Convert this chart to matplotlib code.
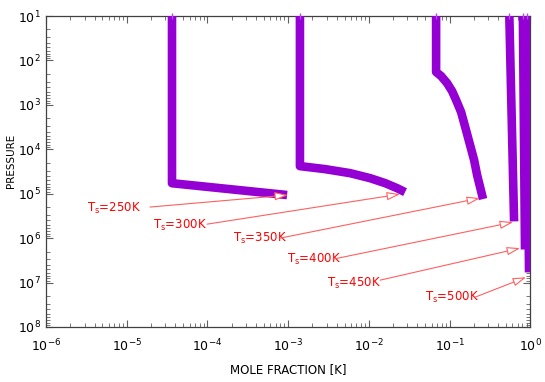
import numpy as np
import matplotlib
matplotlib.use("Agg")
import matplotlib.pyplot as plt
from matplotlib.ticker import LogLocator, NullFormatter, FixedLocator

# ---- data (mole fraction, pressure) per surface temperature ----
labels = ["250K", "300K", "350K", "400K", "450K", "500K"]

x_250 = [3.64e-5, 3.64e-5, 9.7e-4]
p_250 = [10, 5.8e4, 1.07e5]

x_300 = [1.40e-3, 1.40e-3, 2.86e-3, 5.85e-3, 1.035e-2, 1.59e-2, 2.23e-2, 2.81e-2]
p_300 = [10, 2.39e4, 2.79e4, 3.44e4, 4.46e4, 5.77e4, 7.48e4, 9.2e4]

x_350 = [0.0681, 0.0681, 0.0785, 0.0931, 0.1074, 0.1205, 0.139, 0.160,
         0.1795, 0.2014, 0.2194, 0.2389, 0.260]
p_350 = [10, 182, 224, 323, 489, 780, 1452, 3.70e3,
         8.04e3, 1.75e4, 3.81e4, 7.10e4, 1.32e5]

x_400 = [0.55, 0.63]
p_400 = [10, 4.2e5]

x_450 = [0.81, 0.86]
p_450 = [10, 1.8e6]

x_500 = [0.90, 0.965]
p_500 = [10, 5.9e6]

series_x = [x_250, x_300, x_350, x_400, x_450, x_500]
series_p = [p_250, p_300, p_350, p_400, p_450, p_500]

# annotation layout (log10 coordinates): text left, text y, arrow tail, arrow head
label_pos = [(-5.492, 5.324), (-4.674, 5.707), (-3.683, 6.0),
             (-3.014, 6.473), (-2.518, 7.014), (-1.304, 7.329)]
arrow_tail = [(-4.711, 5.30), (-4.005, 5.685), (-3.10, 6.0),
              (-2.444, 6.473), (-1.861, 6.946), (-0.684, 7.329)]
arrow_head = [(-3.001, 5.03), (-1.613, 5.009), (-0.622, 5.099),
              (-0.213, 5.64), (-0.126, 6.225), (-0.052, 6.88)]

purple = "#9400D3"
red = "#ff0000"
arrow_red = "#ff6060"

fig = plt.figure(figsize=(5.45, 3.82), dpi=100)
ax = fig.add_axes([0.0844, 0.144, 0.8886, 0.814])

for xs, ps in zip(series_x, series_p):
    ax.plot(xs, ps, color=purple, lw=6.2, solid_capstyle="butt",
            solid_joinstyle="round", zorder=3)
    ax.plot([xs[0]], [ps[0]], marker="|", ms=5, mew=1.0, color="#b050e0",
            clip_on=False, zorder=4, ls="none")

for lab, lp, tl, hd in zip(labels, label_pos, arrow_tail, arrow_head):
    ax.text(10**lp[0], 10**lp[1], r"T$_\mathrm{s}$=" + lab, color=red,
            fontsize=8.5, ha="left", va="center", zorder=5)
    ax.annotate("", xy=(10**hd[0], 10**hd[1]), xytext=(10**tl[0], 10**tl[1]),
                arrowprops=dict(arrowstyle="-|>,head_length=0.8,head_width=0.25",
                                fc="white", ec=arrow_red, lw=0.8,
                                shrinkA=0, shrinkB=0), zorder=5)

ax.set_xscale("log")
ax.set_yscale("log")
ax.set_xlim(1e-6, 1)
ax.set_ylim(1e8, 10)

ax.xaxis.set_major_locator(FixedLocator([10.0**k for k in range(-6, 1)]))
ax.set_xticklabels([r"$10^{%d}$" % k for k in range(-6, 1)])
ax.yaxis.set_major_locator(FixedLocator([10.0**k for k in range(1, 9)]))
ax.set_yticklabels([r"$10^{%d}$" % k for k in range(1, 9)])
ax.xaxis.set_minor_locator(LogLocator(base=10, subs=np.arange(2, 10), numticks=20))
ax.yaxis.set_minor_locator(LogLocator(base=10, subs=np.arange(2, 10), numticks=20))
ax.xaxis.set_minor_formatter(NullFormatter())
ax.yaxis.set_minor_formatter(NullFormatter())

ax.tick_params(which="both", direction="in", top=True, right=True,
               colors="#606060", labelcolor="black", labelsize=9)
ax.tick_params(which="major", length=5, width=0.8)
ax.tick_params(which="minor", length=3, width=0.6)
ax.tick_params(axis="x", pad=8)
for s in ax.spines.values():
    s.set_color("#404040")
    s.set_linewidth(0.9)

ax.set_xlabel("MOLE FRACTION [K]", fontsize=8.5, labelpad=6)
ax.set_ylabel("PRESSURE", fontsize=7.5)
ax.yaxis.set_label_coords(-0.062, 0.534)

fig.savefig("out.png", dpi=100)
